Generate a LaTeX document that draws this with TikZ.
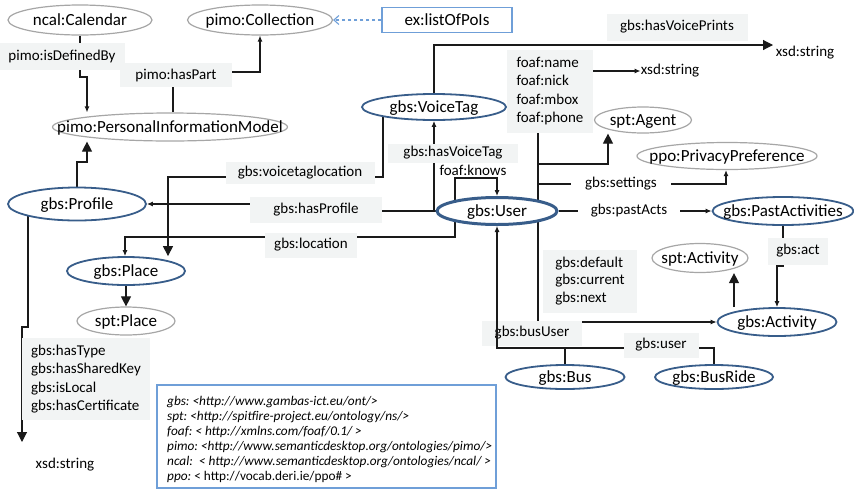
\documentclass[tikz,border=0pt]{standalone}
\usepackage{fontspec}
\setmainfont{Carlito}
\usetikzlibrary{shapes.geometric,arrows.meta}
\definecolor{bluE}{HTML}{385D8A}
\definecolor{grayE}{HTML}{A6A6A6}
\definecolor{lblbg}{HTML}{F2F4F4}
\definecolor{lightblue}{HTML}{6F9FD8}
\definecolor{lineC}{HTML}{1A1A1A}
\pgfdeclarelayer{bg}
\pgfsetlayers{bg,main}
\newcommand{\ET}[1]{\makebox[0pt]{\smash{\raisebox{-0.33em}{#1}}}}
\tikzset{
  ell/.style={ellipse, fill=white, inner sep=0pt, font=\fontsize{17}{20}\selectfont},
  bell/.style={ell, draw=bluE, line width=1.8pt},
  uell/.style={ell, draw=bluE, line width=3pt},
  gell/.style={ell, draw=grayE, line width=1.2pt},
  lbl/.style={fill=lblbg, inner sep=0pt, font=\fontsize{15}{18}\selectfont, align=left},
  wlbl/.style={fill=white, inner sep=0pt, font=\fontsize{15}{18}\selectfont},
  txt/.style={inner sep=0pt, font=\fontsize{15}{18}\selectfont},
  conn/.style={draw=lineC, line width=1.1pt},
  sarr/.style={-{Latex[length=6pt,width=5pt]}},
  barr/.style={-{Triangle[length=10pt,width=10pt]}},
}
\begin{document}
\begin{tikzpicture}[x=1pt,y=-1pt]
\useasboundingbox (0,0) rectangle (854,491);
% ellipses
\node[gell, minimum width=144, minimum height=30] (Cal) at (80,20) {\ET{ncal:Calendar}};
\node[gell, minimum width=145, minimum height=30] (Coll) at (260,20) {\ET{pimo:Collection}};
\node[draw=lightblue, line width=1.3pt, minimum width=130, minimum height=25, inner sep=0pt, font=\fontsize{17}{20}\selectfont] (poi) at (447,20) {ex:listOfPoIs};
\node[gell, minimum width=235, minimum height=28] (PIM) at (170,127) {\ET{pimo:PersonalInformationModel}};
\node[bell, minimum width=138, minimum height=33] (Prof) at (77,204) {\ET{gbs:Profile}};
\node[bell, minimum width=144, minimum height=26] (VT) at (434,107) {\ET{gbs:VoiceTag}};
\node[gell, minimum width=97, minimum height=26] (Agent) at (643,120) {\ET{spt:Agent}};
\node[gell, minimum width=180, minimum height=27] (ppo) at (727,156) {\ET{ppo:PrivacyPreference}};
\node[uell, minimum width=120, minimum height=27] (User) at (497,211) {\ET{gbs:User}};
\node[bell, minimum width=141, minimum height=28] (PA) at (783,211) {\ET{gbs:PastActivities}};
\node[gell, minimum width=96, minimum height=29] (sptAct) at (700,258) {\ET{spt:Activity}};
\node[bell, minimum width=119, minimum height=28] (Act) at (777,322) {\ET{gbs:Activity}};
\node[bell, minimum width=118, minimum height=28] (Place) at (126,271) {\ET{gbs:Place}};
\node[gell, minimum width=98, minimum height=28] (sptPlace) at (126,321) {\ET{spt:Place}};
\node[bell, minimum width=119, minimum height=24] (Bus) at (565,377) {\ET{gbs:Bus}};
\node[bell, minimum width=118, minimum height=24] (BusRide) at (714,377) {\ET{gbs:BusRide}};
% labels
\node[lbl, minimum width=125, minimum height=27] (isdef) at (62,56) {pimo:isDefinedBy};
\node[lbl, minimum width=112, minimum height=24] (haspart) at (176,75) {pimo:hasPart};
\node[lbl, minimum width=141, minimum height=27] (vprints) at (677,27) {gbs:hasVoicePrints};
\node[lbl, minimum width=86, minimum height=83, font=\fontsize{15}{18.4}\selectfont] (foaf) at (550,91) {foaf:name\\foaf:nick\\foaf:mbox\\foaf:phone};
\node[lbl, minimum width=130, minimum height=19] (hasvt) at (453,153) {gbs:hasVoiceTag};
\node[txt] (knows) at (473,170) {foaf:knows};
\node[lbl, minimum width=149, minimum height=22] (vtloc) at (300,173) {gbs:voicetaglocation};
\node[lbl, minimum width=132, minimum height=26] (hasprof) at (316,210) {gbs:hasProfile};
\node[lbl, minimum width=92, minimum height=25] (loc) at (311,245) {gbs:location};
\node[wlbl, minimum width=100, minimum height=20] (settings) at (621,184) {gbs:settings};
\node[wlbl, minimum width=102, minimum height=20] (pastacts) at (629,211) {gbs:pastActs};
\node[lbl, minimum width=60, minimum height=27] (act) at (798,251) {gbs:act};
\node[lbl, minimum width=94, minimum height=63, font=\fontsize{15}{17.6}\selectfont] (dflt) at (590,281) {gbs:default\\gbs:current\\gbs:next};
\node[lbl, minimum width=100, minimum height=25] (bususer) at (532,333) {gbs:busUser};
\node[lbl, minimum width=75, minimum height=25] (usr) at (661,345) {gbs:user};
\node[lbl, minimum width=128, minimum height=82, font=\fontsize{15}{18.3}\selectfont] (hastype) at (86,379) {gbs:hasType\\gbs:hasSharedKey\\gbs:isLocal\\gbs:hasCertificate};
\node[txt] (xsdA) at (805,53) {xsd:string};
\node[txt] (xsdB) at (670,71) {xsd:string};
\node[txt] (xsdC) at (65,465) {xsd:string};
\coordinate (vpEnd) at (773,45);
\coordinate (tEnd) at (22,442);
% namespace box
\node[draw=lightblue, line width=1.2pt, minimum width=339, minimum height=103, inner sep=0pt] (ns) at (326.5,436.5) {};
\node[anchor=west, inner sep=0pt, align=left, font=\fontsize{13.3}{15}\selectfont\itshape\frenchspacing] (nstext) at (167,439) {gbs: <http://www.gambas-ict.eu/ont/>\\
spt: <http://spitfire-project.eu/ontology/ns/>\\
foaf: < http://xmlns.com/foaf/0.1/ >\\
pimo: <http://www.semanticdesktop.org/ontologies/pimo/>\\
ncal:\ \ < http://www.semanticdesktop.org/ontologies/ncal/ >\\
ppo: {\upshape < http://vocab.deri.ie/ppo\# >}};
% connectors
\begin{pgfonlayer}{bg}
\draw[conn,sarr] (Cal.south) -- (80,77) -- (87,77) -- (PIM.north -| 87,0);
\draw[conn,sarr] (PIM.north -| 173,0) -- (173,72) -- (260,72) -- (Coll.south);
\draw[conn,barr] (Prof.north) -- (77,162) -- (87,162) -- (PIM.south -| 87,0);
\draw[draw=lightblue, line width=1.1pt, dashed, -{Straight Barb[length=5pt,width=9pt]}] (poi.west) -- (Coll.east);
\draw[conn,barr] (VT.north) -- (434,45) -- (vpEnd);
\draw[conn] (User.center -| 538,0) -- (foaf.south -| 538,0);
\draw[conn,sarr] (foaf.east |- xsdB.west) -- (xsdB.west);
\draw[conn,barr] (User.center -| 538,0) -- (538,164) -- (608,164) -- (Agent.south -| 608,0);
\draw[conn,sarr] (User.center -| 538,0) -- (538,184) -- (726,184) -- (ppo.south -| 726,0);
\draw[conn,sarr] (User.east) -- (PA.west);
\draw[conn,sarr] (PA.south) -- (783,266) -- (777,266) -- (Act.north);
\draw[conn,barr] (Act.north -| 734,0) -- (sptAct.south -| 734,0);
\draw[conn,sarr] (User.center -| 538,0) -- (538,322) -- (Act.west);
\draw[conn,sarr] (User.west) -- (434,211) -- (VT.south);
\draw[conn,sarr] (User.center -| 455,0) -- (455,178) -- (497,178) -- (User.north);
\draw[conn,sarr] (User.west) -- (300,211) -- (300,204) -- (Prof.east);
\draw[conn,barr] (VT.center -| 383,0) -- (383,177) -- (168,177) -- (Place.north -| 168,0);
\draw[conn,sarr] (User.center -| 455,0) -- (455,237) -- (125,237) -- (Place.north -| 125,0);
\draw[conn,barr] (Place.south) -- (sptPlace.north);
\draw[conn,barr] (Prof.center -| 28,0) -- (28,327) -- (22,327) -- (tEnd);
\draw[conn] (BusRide.north) -- (714,348) -- (565,348);
\end{pgfonlayer}
\draw[conn,sarr] (Bus.north) -- (565,348) -- (497,348) -- (User.south);
\end{tikzpicture}
\end{document}
